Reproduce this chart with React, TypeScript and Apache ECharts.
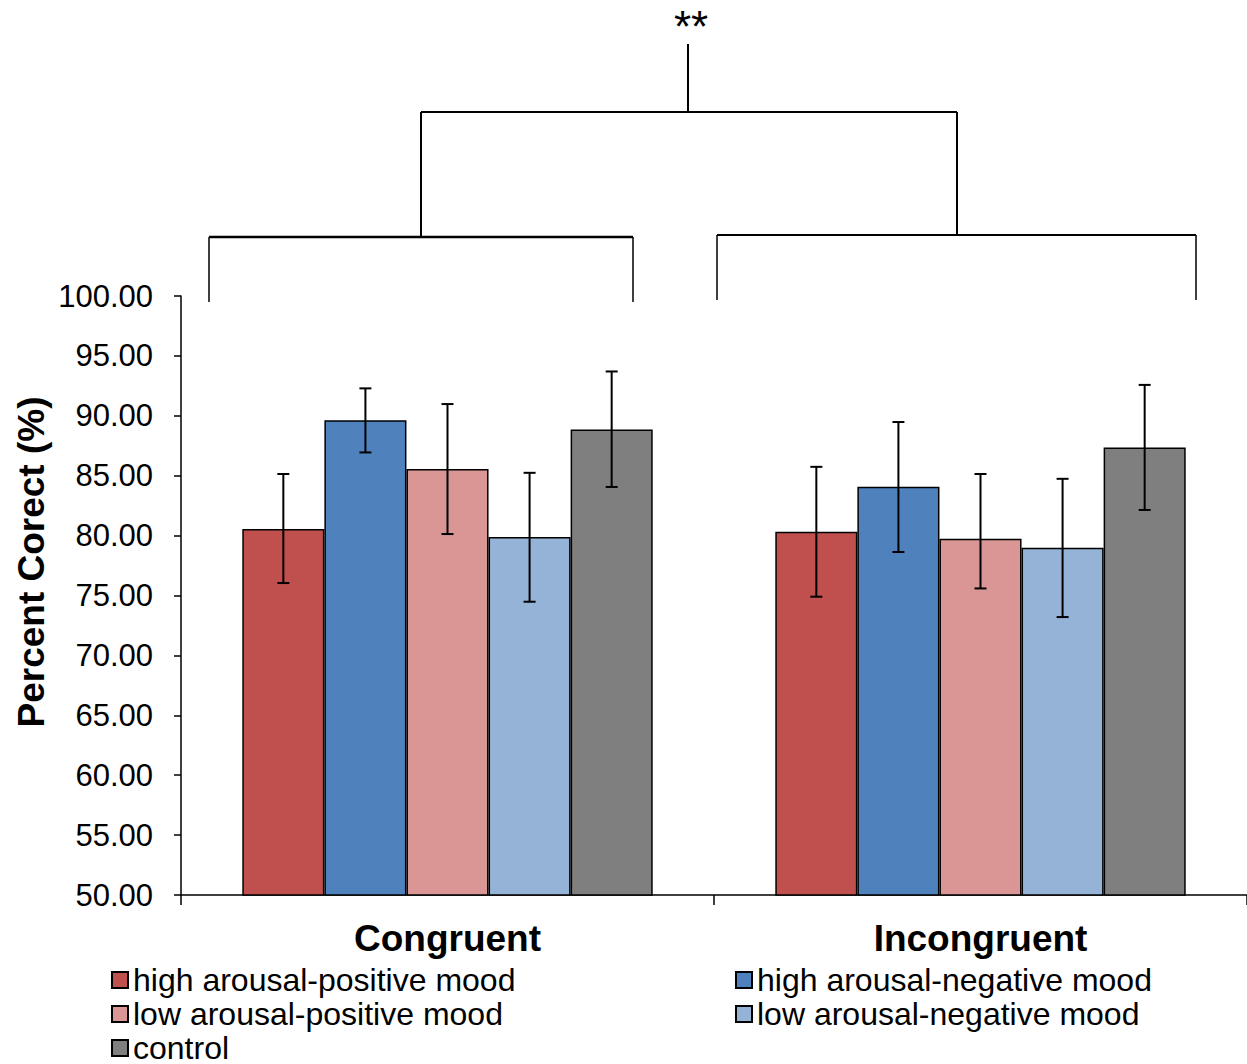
import React, { useEffect, useRef } from "react";
import * as echarts from "echarts";

const categories = ["Congruent", "Incongruent"];
const seriesNames = [
  "high arousal-positive mood",
  "high arousal-negative mood",
  "low arousal-positive mood",
  "low arousal-negative mood",
  "control",
];
const colors = ["#C0504D", "#4F81BD", "#D99694", "#95B3D7", "#7F7F7F"];

const hapValues = [80.55, 80.33];
const hanValues = [89.62, 84.07];
const lapValues = [85.56, 79.73];
const lanValues = [79.88, 78.98];
const controlValues = [88.86, 87.36];

// error bar ends per series: [Congruent, Incongruent]
const errHigh = [
  [85.14, 85.74],
  [92.29, 89.48],
  [90.98, 85.14],
  [85.24, 84.74],
  [93.7, 92.58],
];
const errLow = [
  [76.04, 74.9],
  [86.94, 78.63],
  [80.13, 75.59],
  [74.48, 73.2],
  [84.06, 82.14],
];

const yTicks = { min: 50, max: 100, interval: 5 };
const yTitle = "Percent Corect (%)";
const sigLabel = "**";

export default function App() {
  const ref = useRef<HTMLDivElement>(null);
  useEffect(() => {
    if (!ref.current) return;
    const chart = echarts.init(ref.current, null, { renderer: "svg" });
    const values = [hapValues, hanValues, lapValues, lanValues, controlValues];
    const gapRatio = 0.23;
    const errData: number[][] = [];
    for (let s = 0; s < 5; s++) {
      for (let c = 0; c < categories.length; c++) {
        errData.push([c, s, errLow[s][c], errHigh[s][c]]);
      }
    }
    const font = "'Liberation Sans', Arial, sans-serif";
    const mk = (x1: number, y1: number, x2: number, y2: number, w = 2) => ({
      type: "line",
      shape: { x1, y1, x2, y2 },
      style: { stroke: "#000", lineWidth: w },
      silent: true,
    });
    const legendCommon = {
      orient: "vertical",
      top: 958,
      height: 110,
      itemWidth: 16,
      itemHeight: 16,
      itemGap: 0,
      icon: "rect",
      textStyle: { fontSize: 32, color: "#000", fontFamily: font, lineHeight: 34 },
    };
    chart.setOption({
      animation: false,
      backgroundColor: "#fff",
      textStyle: { fontFamily: font },
      grid: { left: 181, right: 0, top: 296, bottom: 169, containLabel: false },
      legend: [
        { ...legendCommon, data: [seriesNames[0], seriesNames[2], seriesNames[4]], left: 106 },
        { ...legendCommon, data: [seriesNames[1], seriesNames[3]], left: 730 },
      ],
      xAxis: {
        type: "category",
        data: categories,
        axisLine: { lineStyle: { color: "#000", width: 1.5 } },
        axisTick: { show: true, length: 10, lineStyle: { color: "#000", width: 1.5 } },
        axisLabel: {
          fontSize: 37,
          fontWeight: "bold",
          color: "#000",
          margin: 25,
          fontFamily: font,
        },
      },
      yAxis: {
        type: "value",
        min: yTicks.min,
        max: yTicks.max,
        interval: yTicks.interval,
        axisLine: { show: true, lineStyle: { color: "#000", width: 1.5 } },
        axisTick: { show: true, length: 7, lineStyle: { color: "#000", width: 1.5 } },
        splitLine: { show: false },
        axisLabel: {
          fontSize: 31,
          color: "#000",
          margin: 28,
          fontFamily: font,
          formatter: (v: number) => v.toFixed(2),
        },
      },
      series: [
        ...values.map((vals, i) => ({
          type: "bar",
          name: seriesNames[i],
          data: vals,
          barGap: "0%",
          barCategoryGap: gapRatio * 100 + "%",
          itemStyle: { color: colors[i], borderColor: "#000", borderWidth: 1.5 },
        })),
        {
          type: "custom",
          name: "err",
          data: errData,
          encode: { x: 0, y: 3 },
          z: 10,
          renderItem: (params: any, api: any) => {
            const c = api.value(0);
            const s = api.value(1);
            const lo = api.value(2);
            const hi = api.value(3);
            const band = api.size([1, 0])[0];
            const bw = (band * (1 - gapRatio)) / 5;
            const base = api.coord([c, lo]);
            const cx = base[0] + (s - 2) * bw;
            const yLo = base[1];
            const yHi = api.coord([c, hi])[1];
            const cap = 6;
            const st = { stroke: "#000", lineWidth: 2 };
            return {
              type: "group",
              children: [
                { type: "line", shape: { x1: cx, y1: yHi, x2: cx, y2: yLo }, style: st },
                { type: "line", shape: { x1: cx - cap, y1: yHi, x2: cx + cap, y2: yHi }, style: st },
                { type: "line", shape: { x1: cx - cap, y1: yLo, x2: cx + cap, y2: yLo }, style: st },
              ],
            };
          },
        },
      ],
      graphic: [
        mk(209, 237, 633, 237, 2.5),
        mk(209, 237, 209, 302, 1.5),
        mk(633, 237, 633, 302, 1.5),
        mk(717, 235, 1196, 235, 2),
        mk(717, 235, 717, 300, 1.5),
        mk(1196, 235, 1196, 300, 1.5),
        mk(421, 112, 957, 112, 2),
        mk(421, 112, 421, 237, 2),
        mk(957, 112, 957, 235, 2),
        mk(688, 44, 688, 112, 2),
        {
          type: "text",
          x: 691,
          y: 26,
          style: {
            text: sigLabel,
            fontSize: 44,
            fontFamily: font,
            fill: "#000",
            align: "center",
            verticalAlign: "middle",
          },
        },
        {
          type: "text",
          x: 31,
          y: 562,
          rotation: Math.PI / 2,
          style: {
            text: yTitle,
            fontSize: 37,
            fontWeight: "bold",
            fontFamily: font,
            fill: "#000",
            align: "center",
            verticalAlign: "middle",
          },
        },
      ],
    });
    return () => chart.dispose();
  }, []);
  return (
    <div
      ref={ref}
      style={{ position: "fixed", left: 0, top: 0, width: 1247, height: 1064 }}
    />
  );
}
